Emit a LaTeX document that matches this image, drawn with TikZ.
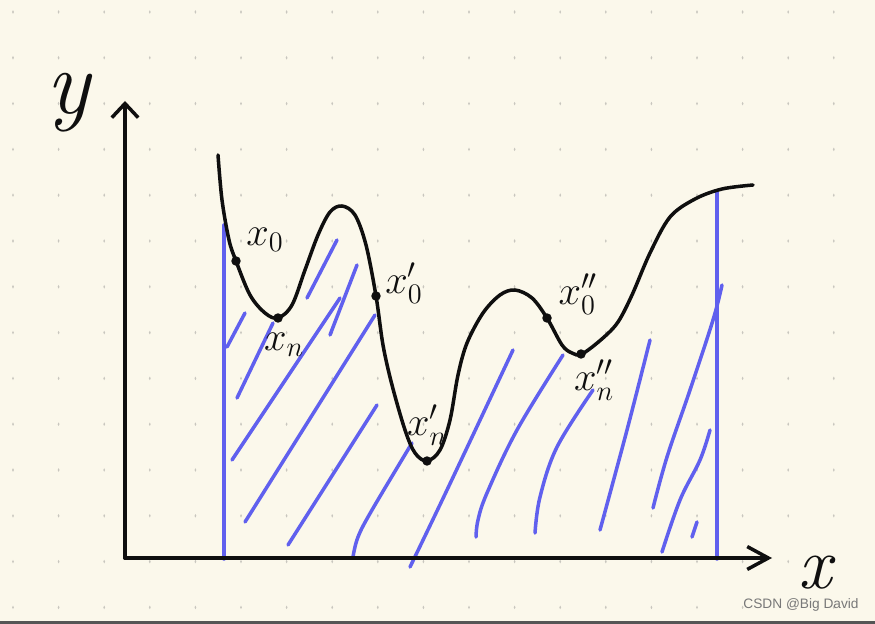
\RequirePackage{fix-cm}
\documentclass[tikz,border=0pt]{standalone}
\usepackage{fontspec}
\newfontfamily\wmfont{Liberation Sans}
\usetikzlibrary{arrows.meta}
\definecolor{paper}{RGB}{251,248,235}
\definecolor{griddot}{RGB}{200,198,190}
\definecolor{hatch}{RGB}{96,96,238}
\definecolor{ink}{RGB}{15,15,15}
\definecolor{wm}{RGB}{120,120,120}
\definecolor{edge}{RGB}{85,85,85}
\begin{document}
\begin{tikzpicture}[x=0.02cm,y=-0.02cm,
  hatchline/.style={draw=hatch,line width=2pt,line cap=round,line join=round},
  inkline/.style={draw=ink,line width=2pt,line cap=round,line join=round},
  axisline/.style={draw=ink,line width=2.1pt,line cap=round},
  ptdot/.style={circle,fill=ink,inner sep=0pt,minimum size=5.4pt},
  lbl/.style={font=\fontsize{23}{26}\selectfont,inner sep=0pt,text=ink}
]
\fill[paper] (0,0) rectangle (875,624);
\useasboundingbox (0,0) rectangle (875,624);
\fill[edge] (0,621) rectangle (875,624);
% grid dots
\foreach \i in {0,...,18}{
  \foreach \j in {0,...,13}{
    \fill[griddot] ({13+45.6*\i},{12+45.8*\j}) ellipse (0.9 and 1.8);
  }
}
% hatch region
\coordinate (L1) at (224,225); \coordinate (L2) at (224,559);
\coordinate (R1) at (717,192); \coordinate (R2) at (717,559);
\draw[hatchline] (L1) -- (L2);
\draw[hatchline] (R1) -- (R2);
\draw[hatchline] (245,313) -- (227,347);
\draw[hatchline] (273,323) -- (237,398);
\draw[hatchline] (337,240) -- (307,298);
\draw[hatchline] (357,265) -- (330,335);
\draw[hatchline] (340,298) -- (232,460);
\draw[hatchline] (375,315) -- (245,522);
\draw[hatchline] (377,405) -- (288,545);
\draw[hatchline] plot[smooth,tension=0.6] coordinates {(412,443) (372,510) (358,537) (353,557)};
\draw[hatchline] plot[smooth,tension=0.6] coordinates {(513,350) (447,490) (410,567)};
\draw[hatchline] plot[smooth,tension=0.6] coordinates {(563,355) (517,430) (487,493) (478,520) (476,537)};
\draw[hatchline] plot[smooth,tension=0.6] coordinates {(593,390) (557,447) (540,497) (535,533)};
\draw[hatchline] plot[smooth,tension=0.6] coordinates {(650,340) (627,430) (600,530)};
\draw[hatchline] plot[smooth,tension=0.6] coordinates {(722,285) (713,320) (690,390) (667,457) (653,508)};
\draw[hatchline] plot[smooth,tension=0.6] coordinates {(710,430) (700,460) (680,500) (662,552)};
\draw[hatchline] (697,522) -- (692,537);
% axes
\coordinate (O) at (125,558);
\coordinate (ytip) at (125,101);
\coordinate (xtip) at (772,558);
\draw[axisline,-{Straight Barb[length=8pt,width=15pt,line width=2pt]}] (O) -- (ytip);
\draw[axisline,-{Straight Barb[length=12pt,width=13pt,line width=2pt]}] (O) -- (xtip);
\node[font=\fontsize{52}{56}\selectfont\itshape,inner sep=0pt,anchor=base,text=ink] (ylab) at (68,114) {y};
\node[font=\fontsize{42}{46}\selectfont\itshape,inner sep=0pt,anchor=base,text=ink] (xlab) at (815,588) {x};
% curve
\draw[inkline] plot[smooth,tension=0.55] coordinates {
  (218,155) (222,200) (229,240) (236,261) (250,295) (265,313) (278,318)
  (292,305) (305,270) (318,235) (330,212) (342,206) (355,215) (366,245)
  (376,296) (383,345) (392,385) (405,430) (415,453) (427,461) (440,450)
  (450,420) (458,375) (467,343) (483,313) (500,295) (515,290) (532,298)
  (547,318) (562,345) (572,353) (582,354) (603,338) (618,322) (632,295)
  (650,253) (670,217) (695,199) (722,189) (753,185)};
% points
\node[ptdot] (p0) at (236,261) {};
\node[ptdot] (pn) at (278,318) {};
\node[ptdot] (p0a) at (376,296) {};
\node[ptdot] (pna) at (427,461) {};
\node[ptdot] (p0b) at (547,318) {};
\node[ptdot] (pnb) at (581,354) {};
% labels
\node[lbl] (l0) at (265,240) {$x_0$};
\node[lbl] (ln) at (284,345) {$x_n$};
\node[lbl] (l0a) at (404,283) {$x_0'$};
\node[lbl] (lna) at (427,425) {$x_n'$};
\node[lbl] (l0b) at (578,294) {$x_0''$};
\node[lbl] (lnb) at (594,380) {$x_n''$};
% watermark
\node[font=\wmfont\fontsize{7.8}{9}\selectfont,text=wm,inner sep=0pt] (wm) at (801,605) {CSDN @Big David};
\end{tikzpicture}
\end{document}
